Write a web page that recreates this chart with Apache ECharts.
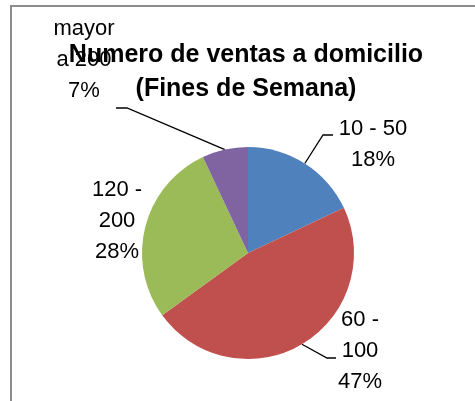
<!DOCTYPE html>
<html><head><meta charset="utf-8">
<script src="https://cdn.jsdelivr.net/npm/echarts@6/dist/echarts.min.js"></script>
<style>html,body{margin:0;padding:0;background:#fff}#c{width:475px;height:401px}</style>
</head><body><div id="c"></div>
<script>
// ---- data ----
const categories = ['10 - 50', '60 -\n100', '120 -\n200', 'mayor\na 200'];
const values = [18, 47, 28, 7];
const titleLines = ['Numero de ventas a domicilio', '(Fines de Semana)'];

// ---- styles / layout ----
const colors = ['#4F81BD', '#C0504D', '#9BBB59', '#8064A2'];
const FONT = 'Liberation Sans';
const labelPos = [[373, 144], [360, 351], [117, 221], [84, 60]];
const labelLineBends = [[[323, 135], [333, 135]], [[327, 358], [336, 358]], null, [[127, 108], [116, 108]]];

const chart = echarts.init(document.getElementById('c'), null, {renderer: 'canvas'});
chart.setOption({
  animation: false,
  backgroundColor: '#fff',
  title: {
    text: titleLines.join('\n'),
    left: 246, top: 38, textAlign: 'center',
    padding: 0,
    textStyle: {fontFamily: FONT, fontWeight: 'bold', fontSize: 25, lineHeight: 34, color: '#000'}
  },
  graphic: [{
    type: 'rect', silent: true, z: -10,
    shape: {x: 11, y: 6, width: 700, height: 700},
    style: {fill: null, stroke: '#8c8c8c', lineWidth: 2}
  }],
  series: [{
    type: 'pie',
    center: [248, 253],
    radius: 106,
    startAngle: 90,
    clockwise: true,
    percentPrecision: 0,
    z: 2,
    emphasis: {disabled: true},
    itemStyle: {borderWidth: 0},
    data: categories.map((c, i) => ({name: c, value: values[i], itemStyle: {color: colors[i]},
      labelLine: {show: labelLineBends[i] !== null}})),
    label: {
      show: true, position: 'outside',
      formatter: '{b}\n{d}%',
      fontFamily: FONT, fontSize: 22, lineHeight: 31, color: '#000', align: 'center'
    },
    labelLine: {show: true, length: 10, length2: 10, lineStyle: {color: '#000', width: 1.3}},
    labelLayout: function (p) {
      const i = p.dataIndex;
      const out = {x: labelPos[i][0], y: labelPos[i][1], align: 'center', verticalAlign: 'middle', hideOverlap: false, moveOverlap: null};
      if (labelLineBends[i]) {
        const ang = (90 - (values.slice(0, i).reduce((a, b) => a + b, 0) + values[i] / 2) / values.reduce((a, b) => a + b, 0) * 360) * Math.PI / 180;
        const start = [248 + 106 * Math.cos(ang), 253 - 106 * Math.sin(ang)];
        out.labelLinePoints = [start, labelLineBends[i][0], labelLineBends[i][1]];
      }
      return out;
    }
  }]
});
</script></body></html>
